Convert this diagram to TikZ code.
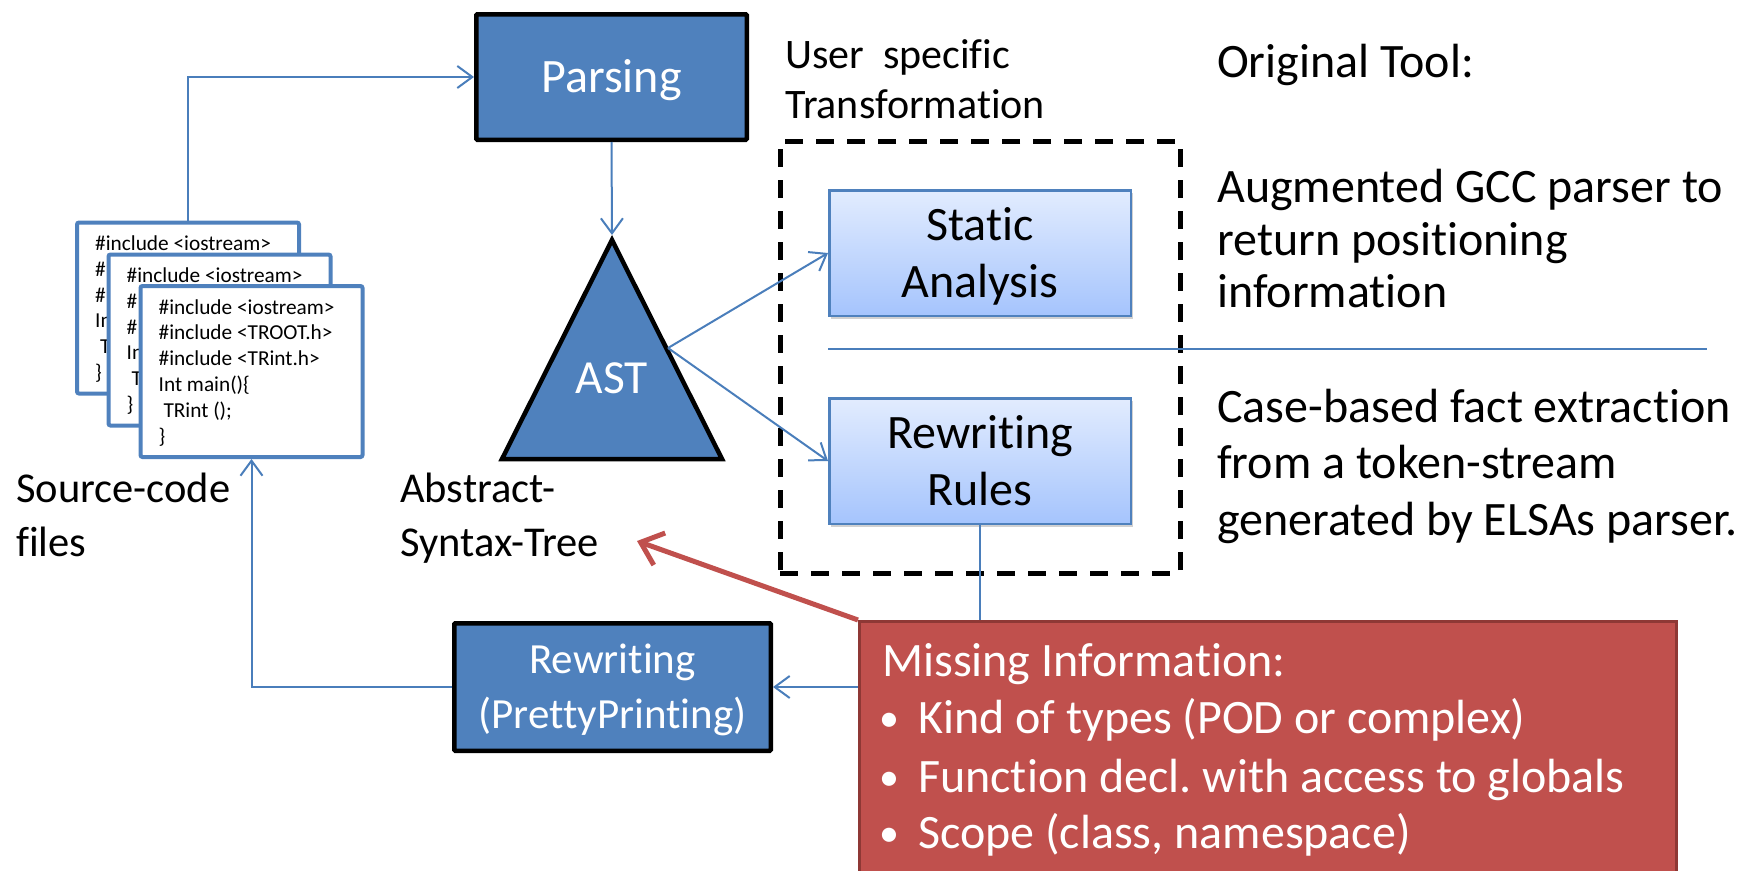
\documentclass[tikz,border=0pt]{standalone}
\usepackage{fontspec}
\setmainfont{Carlito}[Ligatures=CommonOff]
\usetikzlibrary{arrows.meta,shadows,calc,backgrounds}

\definecolor{accent}{HTML}{4F81BD}
\definecolor{connblue}{HTML}{4A7EBB}
\definecolor{redfill}{HTML}{C0504D}
\definecolor{redline}{HTML}{8E3835}
\definecolor{gradtop}{HTML}{E2ECFE}
\definecolor{gradbot}{HTML}{A5C4FD}

\newcommand\fsz[1]{\fontsize{#1}{#1}\selectfont}
% lines of a source file; the stacked files behind only show their left margin
\newcommand\fulllines{\#include <iostream>, \#include <TROOT.h>, \#include <TRint.h>, Int main()\{, \ TRint ();, \}}
\newcommand\partlines{\#include <iostream>, \#, \#, In, \ T, \}}
\frenchspacing

\begin{document}
\begin{tikzpicture}[x=1pt,y=-1pt,
  every node/.style={inner sep=0pt},
  procbox/.style={draw=black, line width=4.5pt, fill=accent, rounded corners=1pt, text=white},
  gradbox/.style={draw=accent, line width=2.5pt, top color=gradtop, bottom color=gradbot,
    minimum width=301.5pt, minimum height=125.5pt,
    drop shadow={shadow xshift=2pt, shadow yshift=-3pt, opacity=0.3, fill=black!60}},
  filebox/.style={draw=accent, line width=4pt, fill=white, rounded corners=2pt,
    minimum width=222pt, minimum height=171pt},
  dashbox/.style={draw=black, line width=5pt, dash pattern=on 18pt off 13pt,
    minimum width=400pt, minimum height=432pt},
  redbox/.style={draw=redline, line width=3pt, fill=redfill},
  conn/.style={draw=connblue, line width=2pt},
  arr/.style={-{Straight Barb[length=15pt,width=22pt]}},
  redarrow/.style={draw=redfill, line width=5pt, -{Straight Barb[length=20pt,width=34pt]}},
  lbl/.style={anchor=base west, font=\fsz{48}},
  leftlbl/.style={anchor=base west, font=\fsz{42.5}},
  smalllbl/.style={anchor=base west, font=\fsz{42}},
  boxtext/.style={anchor=base, font=\fsz{48}},
  whitetext/.style={anchor=base, font=\fsz{43}, text=white},
  redtxt/.style={anchor=base west, font=\fsz{48}, text=white},
  bullettxt/.style={anchor=base, font=\fsz{40}, text=white},
  code/.style={anchor=base west, font=\fsz{21.3}}
]
\useasboundingbox (0,0) rectangle (1737,870);

% stacked source files, each drawn over the previous one
\node[filebox] (file1) at (188,308) {};
\foreach \t [count=\i] in \partlines
  \node[code] (code1-\i) at ($(file1.north west)+(20,{30+25.8*(\i-1)})$) {\t};
\node[filebox] (file2) at (219.5,340) {};
\foreach \t [count=\i] in \partlines
  \node[code] (code2-\i) at ($(file2.north west)+(20,{30+25.8*(\i-1)})$) {\t};
\node[filebox] (file3) at (251.5,371.5) {};
\foreach \t [count=\i] in \fulllines
  \node[code] (code3-\i) at ($(file3.north west)+(20,{30+25.8*(\i-1)})$) {\t};

\node[leftlbl] (src1) at (16,502) {Source-code};
\node[leftlbl] (src2) at (16,556) {files};

% parser and syntax tree
\node[procbox, minimum width=270.5pt, minimum height=125.5pt, font=\fsz{48},
      text height=30pt, text depth=0pt] (parsing) at (611.5,77) {Parsing};
\draw[line width=4.5pt, fill=accent, miter limit=10] (612,240) -- (722,459) -- (502,459) -- cycle;
\coordinate (astapex) at (612,235);
\coordinate (astside) at (668,348);
\node[anchor=base, font=\fsz{47.5}, text=white] (ast) at (612,393) {AST};
\node[leftlbl] (abs1) at (400,502) {Abstract-};
\node[leftlbl] (abs2) at (400,556) {Syntax-Tree};

% user specific transformation
\node[smalllbl] (user1) at (785,68) {User\ \ specific};
\node[smalllbl] (user2) at (785,118) {Transformation};
\node[dashbox] (transform) at (980,357) {};

\node[gradbox] (static) at (980,253) {};
\node[boxtext] (static1) at (980,240) {Static};
\node[boxtext] (static2) at (980,297) {Analysis};

\node[gradbox] (rules) at (980,461) {};
\node[boxtext] (rules1) at (980,448) {Rewriting};
\node[boxtext] (rules2) at (980,505) {Rules};

\coordinate (sepstart) at (828,349);
\coordinate (sepend) at (1707,349);
\draw[conn] (sepstart) -- (sepend);

% pretty printer
\node[procbox, minimum width=316.5pt, minimum height=127.5pt] (pretty) at (612.5,687) {};
\node[whitetext] (pretty1) at (612.5,673) {Rewriting};
\node[whitetext] (pretty2) at (612.5,728) {(PrettyPrinting)};

% original tool notes
\node[lbl] (orig) at (1217,77) {Original Tool:};
\node[lbl] (aug1) at (1217,202) {Augmented GCC parser to};
\node[lbl] (aug2) at (1217,255) {return positioning};
\node[lbl] (aug3) at (1217,307) {information};
\node[lbl] (case1) at (1217,422) {Case-based fact extraction};
\node[lbl] (case2) at (1217,478) {from a token-stream};
\node[lbl] (case3) at (1217,535) {generated by ELSAs parser.};

% flow connectors
\draw[conn, arr] (file1.north) |- (parsing.west);
\draw[conn, arr] (parsing.south) -- (astapex);
\draw[conn, arr] (astside) -- (static.west);
\draw[conn, arr] (astside) -- (rules.west);
\draw[conn, arr] (rules.south) |- (pretty.east);
\draw[conn, arr] (pretty.west) -| (file3.south);

% missing information box
\node[redbox, anchor=north west, minimum width=817pt, minimum height=280pt] (missing) at (858,620) {};
\coordinate (redtip) at (637,541);
\begin{scope}[on background layer]
  \draw[redarrow] (missing.north west) -- (redtip);
\end{scope}
\node[redtxt] (miss0) at (882,676) {Missing Information:};
\node[bullettxt] (bul1) at (889,731) {\textbullet};
\node[bullettxt] (bul2) at (889,790) {\textbullet};
\node[bullettxt] (bul3) at (889,846) {\textbullet};
\node[redtxt] (miss1) at (918,733) {Kind of types (POD or complex)};
\node[redtxt] (miss2) at (918,792) {Function decl. with access to globals};
\node[redtxt] (miss3) at (918,848) {Scope (class, namespace)};
\end{tikzpicture}
\end{document}
